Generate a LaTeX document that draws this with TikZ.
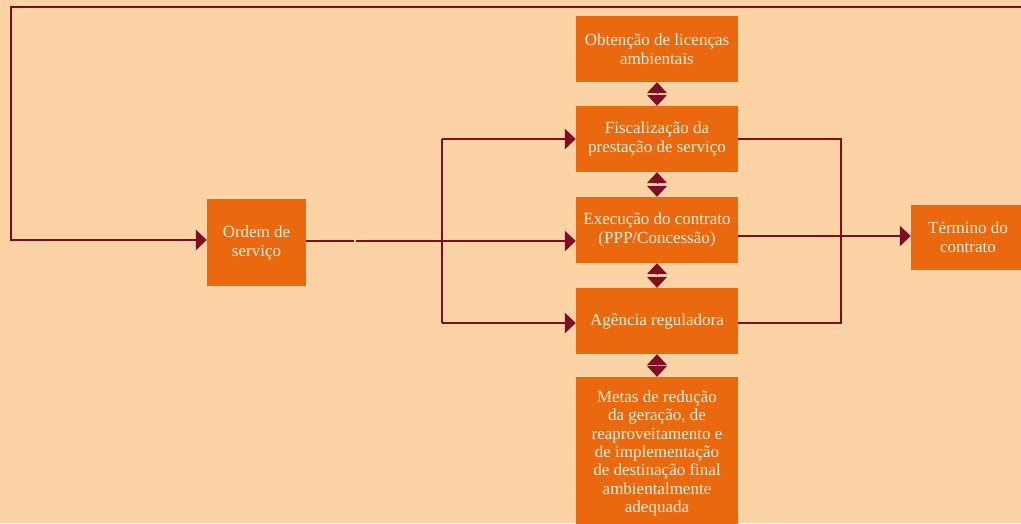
\documentclass[tikz,border=0pt]{standalone}
\usepackage{fontspec}
\setmainfont{Liberation Serif}
\usetikzlibrary{arrows.meta,calc}
\definecolor{bgc}{HTML}{FCD3A4}
\definecolor{boxc}{HTML}{EA690E}
\definecolor{linec}{HTML}{7F0E24}
\definecolor{txtc}{HTML}{FDEEDD}
\tikzset{
  box/.style={fill=boxc, text=txtc, inner sep=0pt, align=center, font=\fontsize{17}{19}\selectfont},
  conn/.style={draw=linec, line width=2.8pt},
  arr/.style={conn, -{Triangle[length=11pt,width=20pt]}},
  bidir/.style={draw=linec, line width=1pt, -{Triangle[length=11pt,width=20pt]}}
}
\begin{document}
\begin{tikzpicture}[x=1pt,y=-1pt]
\useasboundingbox[fill=bgc] (0,0) rectangle (1021,523);
\node[box, minimum width=162pt, minimum height=66pt] (obt) at (657,49) {Obtenção de licenças\\ambientais};
\node[box, minimum width=162pt, minimum height=66pt] (fis) at (657,139) {Fiscalização da\\prestação de serviço};
\node[box, minimum width=162pt, minimum height=66pt] (exe) at (657,230) {Execução do contrato\\(PPP/Concessão)};
\node[box, minimum width=162pt, minimum height=66pt] (age) at (657,321) {Agência reguladora};
\node[box, minimum width=162pt, minimum height=153pt, font=\fontsize{17}{18.4}\selectfont] (met) at (657,453.5) {Metas de redução\\da geração, de\\reaproveitamento e\\de implementação\\de destinação final\\ambientalmente\\adequada};
\node[box, minimum width=99pt, minimum height=87pt] (ord) at (256.5,242.5) {Ordem de\\serviço};
\node[box, minimum width=114pt, minimum height=65pt] (ter) at (968,237.5) {Término do\\contrato};

% double arrows between stacked boxes
\foreach \a/\b in {obt/fis, fis/exe, exe/age, age/met}{
  \coordinate (m) at ($(\a.south)!0.5!(\b.north)$);
  \draw[bidir] ($(m)+(0,-1)$) -- (\a.south);
  \draw[bidir] ($(m)+(0,1)$) -- (\b.north);
}

% feedback loop
\coordinate (tr) at (1021,7);
\coordinate (tl) at (11,7);
\coordinate (bl) at (11,240);
\draw[arr] (tr) -- (tl) -- (bl) -- (ord.west |- bl);

% ordem to execution with branch
\coordinate (gapA) at (354,241);
\coordinate (gapB) at (356,241);
\draw[conn] (ord.east |- gapA) -- (gapA);
\draw[arr] (gapB) -- (exe.west |- gapB);
\coordinate (bt) at (442,139);
\coordinate (bb) at (442,323);
\draw[conn] (bt) -- (bb);
\draw[arr] (bt) -- (fis.west |- bt);
\draw[arr] (bb) -- (age.west |- bb);

% right side
\coordinate (rt) at (841,139);
\coordinate (rb) at (841,323);
\draw[conn] (fis.east |- rt) -- (rt) -- (rb) -- (age.east |- rb);
\coordinate (rm) at (841,236);
\draw[arr] (exe.east |- rm) -- (ter.west |- rm);
\end{tikzpicture}
\end{document}
